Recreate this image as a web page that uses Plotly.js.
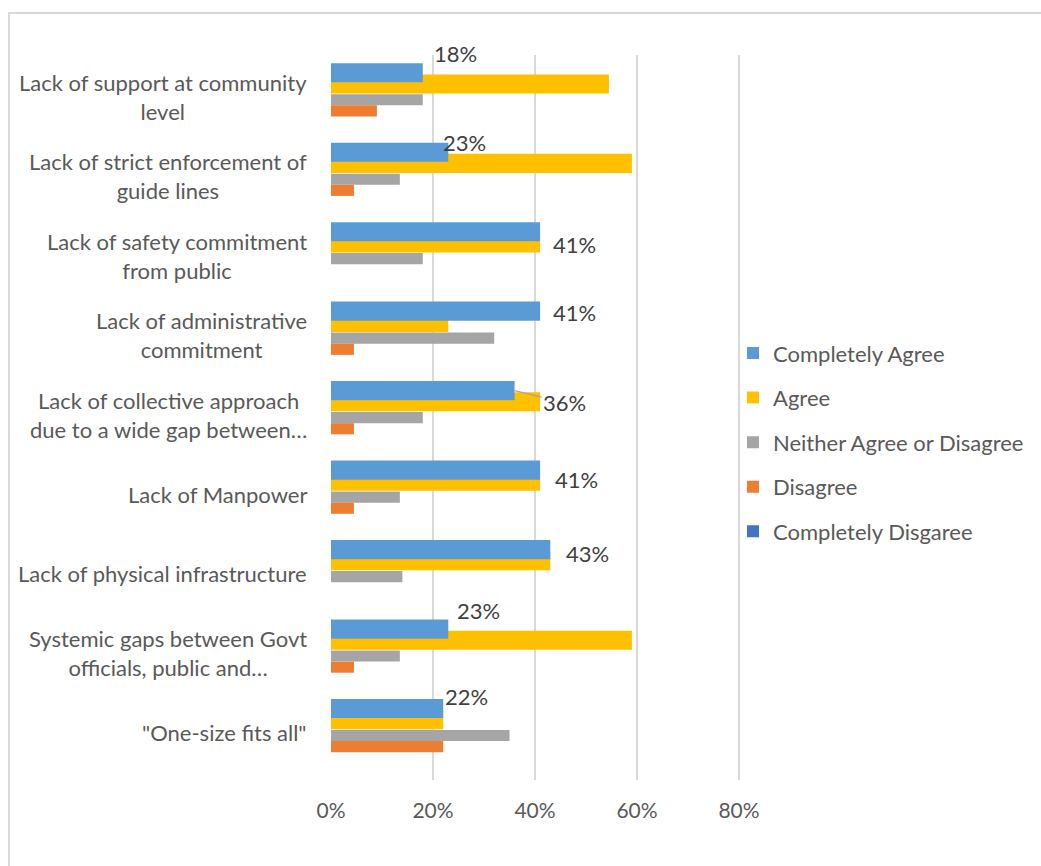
<!DOCTYPE html>
<html>
<head>
<meta charset="utf-8">
<script src="https://cdn.plot.ly/plotly-3.0.1.min.js"></script>
<style>
html,body{margin:0;padding:0;background:#fff;}
#wrap{position:relative;width:1041px;height:866px;overflow:hidden;}
#frame{position:absolute;left:8px;top:12px;width:1200px;height:1000px;border-left:2px solid #D9D9D9;border-top:2px solid #D9D9D9;}
#chart{position:absolute;left:0;top:0;width:1041px;height:866px;}
</style>
</head>
<body>
<div id="wrap"><div id="frame"></div><div id="chart"></div></div>
<script>
// ---- data ----
const categories = [
  "Lack of support at community level",
  "Lack of strict enforcement of guide lines",
  "Lack of safety commitment from public",
  "Lack of administrative commitment",
  "Lack of collective approach due to a wide gap between…",
  "Lack of Manpower",
  "Lack of physical infrastructure",
  "Systemic gaps between Govt officials, public and…",
  "\"One-size fits all\""
];
const categoryLabels = [
  "Lack of support at community<br>level",
  "Lack of strict enforcement of<br>guide lines",
  "Lack of safety commitment<br>from public",
  "Lack of administrative<br>commitment",
  "Lack of collective approach<br>due to a wide gap between…",
  "Lack of Manpower",
  "Lack of physical infrastructure",
  "Systemic gaps between Govt<br>officials, public and…",
  "\"One-size fits all\""
];
const seriesNames = ["Completely Agree", "Agree", "Neither Agree or Disagree", "Disagree", "Completely Disgaree"];
const completelyAgree = [18, 23, 41, 41, 36, 41, 43, 23, 22];
const agree           = [54.5, 59, 41, 23, 41, 41, 43, 59, 22];
const neither         = [18, 13.5, 18, 32, 18, 13.5, 14, 13.5, 35];
const disagree        = [9, 4.5, 0, 4.5, 4.5, 4.5, 0, 4.5, 22];
const completelyDisagree = [0, 0, 0, 0, 0, 0, 0, 0, 0];
const xTickVals = [0, 20, 40, 60, 80];
const xTickText = ["0%", "20%", "40%", "60%", "80%"];

// ---- styling ----
const colors = ["#5B9BD5", "#FFC000", "#A5A5A5", "#ED7D31", "#4472C4"];
const barOffset = [-0.397, -0.256, -0.007, 0.133, 0.273];
const barWidth  = [0.241, 0.240, 0.140, 0.140, 0.140];
// label placement (pixel shifts) for the Completely Agree data labels
const labelDx = [9, -7, 11, 11, 27, 13, 14, 7, 0];
const labelDy = [41, 32, 9.5, 21, 10, 13, 18, 41, 34];

const allSeries = [completelyAgree, agree, neither, disagree, completelyDisagree];
// draw order: Agree first so Completely Agree overlays it
const drawOrder = [1, 0, 2, 3, 4];
const traces = drawOrder.map(i => ({
  type: 'bar',
  orientation: 'h',
  name: seriesNames[i],
  x: allSeries[i],
  y: categories,
  offset: barOffset[i],
  width: barWidth[i],
  marker: {color: colors[i], line: {width: 0}},
  legendrank: i + 1,
  legendgroup: 'g' + i,
  hoverinfo: 'x+y+name'
}));

const font = "Lato, 'Open Sans', sans-serif";
const annotations = [];
categories.forEach((c, k) => {
  annotations.push({
    xref: 'paper', x: 0, xanchor: 'right', xshift: -22,
    yref: 'y', y: c, yshift: -2, yanchor: 'middle',
    text: categoryLabels[k], align: 'center', showarrow: false,
    font: {family: font, size: 22, color: '#595959'}
  });
});
completelyAgree.forEach((v, k) => {
  if (k === 4) {
    annotations.push({
      xref: 'x', x: v, yref: 'y', y: categories[k], yshift: 22,
      text: v + '%', showarrow: true, arrowhead: 0, arrowwidth: 1.2, arrowcolor: '#A5A5A5',
      ax: 50, ay: 12, standoff: 0,
      font: {family: font, size: 22, color: '#404040'}
    });
  } else {
    annotations.push({
      xref: 'x', x: v, xanchor: 'left', xshift: labelDx[k],
      yref: 'y', y: categories[k], yanchor: 'middle', yshift: labelDy[k],
      text: v + '%', showarrow: false,
      font: {family: font, size: 22, color: '#404040'}
    });
  }
});

const plotLeft = 331, plotRight = 1000, pxPerUnit = 5.1;
const layout = {
  width: 1041, height: 866,
  margin: {l: plotLeft, r: 1041 - plotRight, t: 55, b: 86},
  paper_bgcolor: 'rgba(0,0,0,0)',
  plot_bgcolor: 'rgba(0,0,0,0)',
  barmode: 'overlay',
  font: {family: font, size: 21, color: '#595959'},
  xaxis: {
    range: [0, (plotRight - plotLeft) / pxPerUnit], tickvals: xTickVals, ticktext: xTickText,
    showgrid: true, gridcolor: '#D9D9D9', gridwidth: 1.5,
    zeroline: false, showline: false, ticks: '', ticklabelstandoff: 16,
    tickfont: {family: font, size: 21, color: '#595959'}, fixedrange: true
  },
  yaxis: {
    type: 'category', autorange: 'reversed', categoryorder: 'array', categoryarray: categories,
    showticklabels: false, showgrid: false, zeroline: false, showline: false, ticks: '', fixedrange: true
  },
  showlegend: true,
  legend: {
    x: (733 - plotLeft) / (plotRight - plotLeft), xanchor: 'left',
    y: 0.466, yanchor: 'middle',
    traceorder: 'grouped', tracegroupgap: 13,
    font: {family: font, size: 22, color: '#595959'},
    bgcolor: 'rgba(0,0,0,0)'
  },
  annotations: annotations
};

Plotly.newPlot('chart', traces, layout, {displayModeBar: false, staticPlot: true});
</script>
</body>
</html>
